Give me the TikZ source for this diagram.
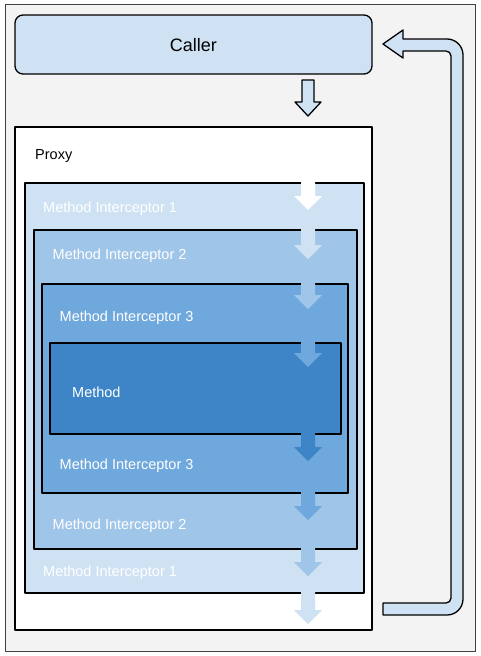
\documentclass[tikz,border=0pt]{standalone}
\usepackage{fontspec}
\setmainfont{Liberation Sans}
\definecolor{backgray}{HTML}{F3F3F3}
\definecolor{blueA}{HTML}{CFE2F3}
\definecolor{blueB}{HTML}{9FC5E8}
\definecolor{blueC}{HTML}{6FA8DC}
\definecolor{blueD}{HTML}{3D85C6}

\begin{document}
\begin{tikzpicture}[x=1pt,y=-1pt,line join=round,
  boxline/.style={draw=black,line width=1.3pt},
  lbl/.style={anchor=base west,inner sep=0pt,font=\fontsize{14.5}{17}\selectfont}]
  \useasboundingbox (0,0) rectangle (480,656);
  \draw[fill=backgray,draw=black!75,line width=0.8pt] (5,4) rectangle (475,651);

  % caller and the step down into the proxy
  \draw[boxline,fill=blueA,rounded corners=8pt] (15,15) rectangle (372,74);
  \node[font=\fontsize{18}{21}\selectfont] (caller) at (193.5,45) {Caller};
  \draw[boxline,fill=blueA] (302,80) -- (314,80) -- (314,102) -- (321,102) -- (308,116)
    -- (295,102) -- (302,102) -- cycle;

  % nested boxes
  \draw[boxline,fill=white] (15,127) rectangle (372,630);
  \draw[boxline,fill=blueA] (25,183) rectangle (364,593);
  \draw[boxline,fill=blueB] (34,230) rectangle (357,549);
  \draw[boxline,fill=blueC] (42,284) rectangle (348,493);
  \draw[boxline,fill=blueD] (50,343) rectangle (341,434);

  \node[lbl] (proxy) at (35,159) {Proxy};
  \node[lbl,white] (mione) at (43,212) {Method Interceptor 1};
  \node[lbl,white] (mitwo) at (52.5,259) {Method Interceptor 2};
  \node[lbl,white] (mithree) at (59.5,321) {Method Interceptor 3};
  \node[lbl,white] (method) at (72,397) {Method};
  \node[lbl,white] (mithreeb) at (59.5,469) {Method Interceptor 3};
  \node[lbl,white] (mitwob) at (52.5,529) {Method Interceptor 2};
  \node[lbl,white] (mioneb) at (43,576) {Method Interceptor 1};

  % flow through the interceptors
  \foreach \top/\tip/\col in {176/210/white,222/259/blueA,276/309/blueB,336/367/blueC,
      427/461/blueD,486/520/blueC,543/576/blueB,586/624/blueA}
    \fill[\col] (301,\top) -- (315,\top) -- (315,\tip-14) -- (322,\tip-14) -- (308,\tip)
      -- (294,\tip-14) -- (301,\tip-14) -- cycle;

  % return to the caller
  \draw[boxline,fill=blueA] (383,44) -- (403,30) -- (403,39) -- (430,39)
    [rounded corners=16pt] -- (463,39) -- (463,615) -- (423,615)
    [sharp corners] -- (383,615) -- (383,603) -- (420,603)
    [rounded corners=5pt] -- (451,603) -- (451,51) -- (425,51)
    [sharp corners] -- (403,51) -- (403,58) -- cycle;
\end{tikzpicture}
\end{document}
